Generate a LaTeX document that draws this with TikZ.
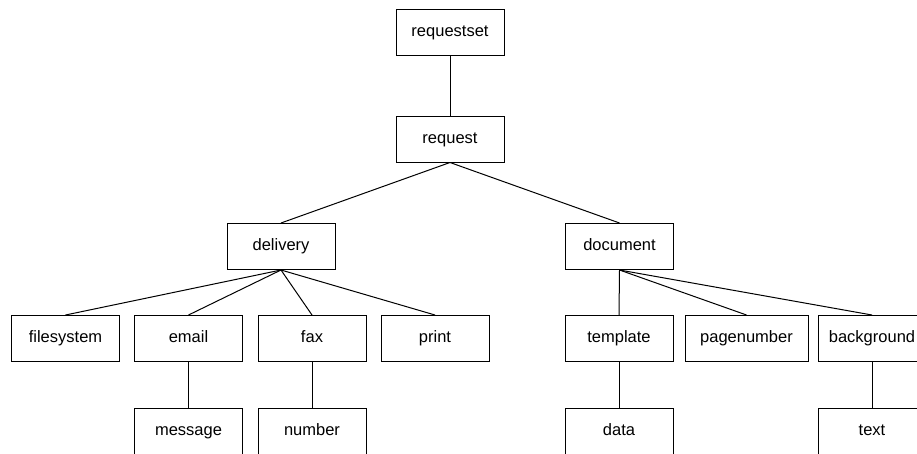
\documentclass[tikz,border=0pt]{standalone}
\usepackage{fontspec}
\setmainfont{Liberation Sans}
\usepackage{tikz}
\usetikzlibrary{positioning}

\begin{document}
\begin{tikzpicture}[x=1pt,y=-1pt,
  box/.style={draw,line width=1pt,minimum width=108pt,minimum height=46pt,inner xsep=4pt,
    text height=12pt,text depth=3.5pt,font=\fontsize{16.5}{19}\selectfont},
  link/.style={line width=1pt}]
\useasboundingbox (0,0) rectangle (917,453);
\clip (0,0) rectangle (917,453);
\node[box] (rs) at (450,32) {requestset};
\node[box] (rq) at (450,139) {request};
\node[box] (dl) at (281,246.5) {delivery};
\node[box] (dc) at (619.5,246.5) {document};

\node[box] (fs) at (65.5,338.5) {filesystem};
\node[box] (em) at (188.5,338.5) {email};
\node[box] (fx) at (312,338.5) {fax};
\node[box] (pr) at (435,338.5) {print};
\node[box] (tp) at (619,338.5) {template};
\node[box,minimum width=123pt] (pn) at (746.5,338.5) {pagenumber};
\node[box] (bg) at (872,338.5) {background};

\node[box] (ms) at (188.5,431) {message};
\node[box] (nb) at (312,431) {number};
\node[box] (dt) at (619,431) {data};
\node[box] (tx) at (872,431) {text};

\draw[link] (rs)--(rq);
\draw[link] (rq.south)--(dl.north);
\draw[link] (rq.south)--(dc.north);
\draw[link] (dl.south)--(fs.north);
\draw[link] (dl.south)--(em.north);
\draw[link] (dl.south)--(fx.north);
\draw[link] (dl.south)--(pr.north);
\draw[link] (dc.south)--(tp.north);
\draw[link] (dc.south)--(pn.north);
\draw[link] (dc.south)--(bg.north);
\draw[link] (em)--(ms);
\draw[link] (fx)--(nb);
\draw[link] (tp)--(dt);
\draw[link] (bg)--(tx);
\end{tikzpicture}
\end{document}
